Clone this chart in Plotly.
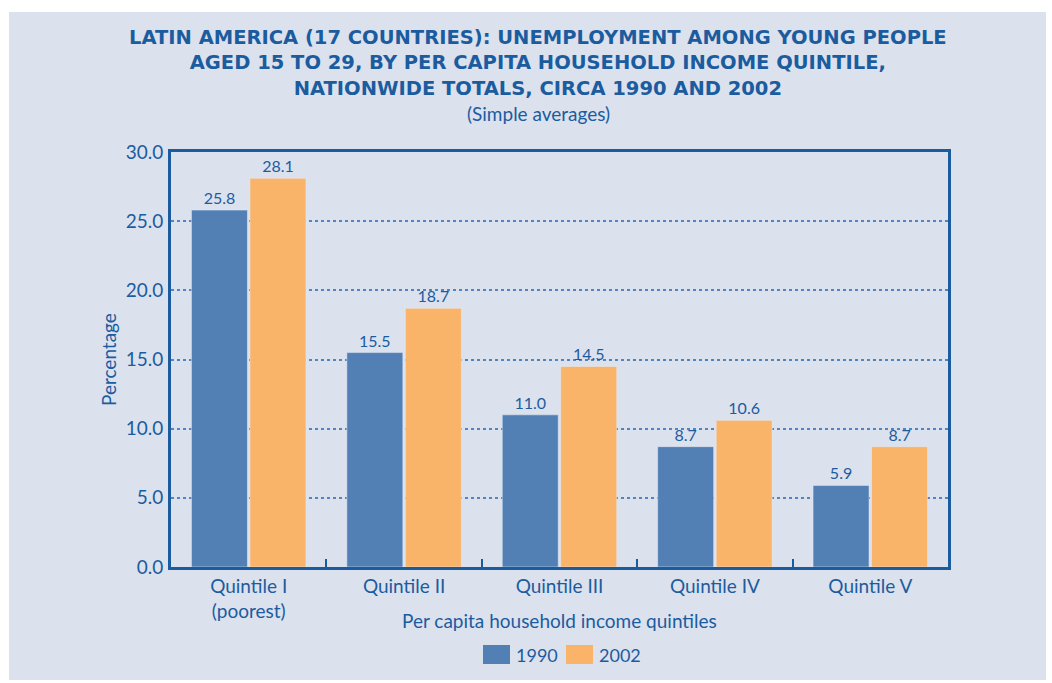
import plotly.graph_objects as go

categories = ["Quintile I<br>(poorest)", "Quintile II", "Quintile III", "Quintile IV", "Quintile V"]
values_1990 = [25.8, 15.5, 11.0, 8.7, 5.9]
values_2002 = [28.1, 18.7, 14.5, 10.6, 8.7]
series_names = ["1990", "2002"]
title_lines = [
    "LATIN AMERICA (17 COUNTRIES): UNEMPLOYMENT AMONG YOUNG PEOPLE",
    "AGED 15 TO 29, BY PER CAPITA HOUSEHOLD INCOME QUINTILE,",
    "NATIONWIDE TOTALS, CIRCA 1990 AND 2002",
]
subtitle = "(Simple averages)"
x_title = "Per capita household income quintiles"
y_title = "Percentage"

TXT = "#1b5c9e"
BLUE = "#5280b5"
ORANGE = "#f9b46a"
BG = "#dce1ee"
FONT = "Lato"

W, H = 1052, 683
L, R, T, B = 171, 948, 152, 567
pw, ph = R - L, B - T


def px(x):
    return (x - L) / pw


def py(y):
    return (B - y) / ph


fig = go.Figure()
for name, vals, col in [(series_names[0], values_1990, BLUE), (series_names[1], values_2002, ORANGE)]:
    fig.add_trace(go.Bar(
        x=categories, y=vals, name=name, marker_color=col,
        text=[f"{v:.1f}" for v in vals], textposition="outside",
        textfont=dict(color=TXT, size=16, family=FONT), cliponaxis=False,
        showlegend=False,
    ))

shapes = [dict(
    type="rect", xref="paper", yref="paper", layer="below",
    x0=px(9), x1=px(1046), y0=py(12), y1=py(680),
    fillcolor=BG, line=dict(width=0),
)]
annotations = [
    dict(text="<b>" + "<br>".join(title_lines) + "</b>", xref="paper", yref="paper",
         x=px(538), y=py(63), xanchor="center", yanchor="middle", showarrow=False,
         align="center", font=dict(size=19.5, color=TXT, family="DejaVu Sans")),
    dict(text=subtitle, xref="paper", yref="paper", x=px(538), y=py(113),
         xanchor="center", yanchor="middle", showarrow=False,
         font=dict(size=19, color=TXT, family=FONT)),
    dict(text=x_title, xref="paper", yref="paper", x=px(559), y=py(620),
         xanchor="center", yanchor="middle", showarrow=False,
         font=dict(size=19, color=TXT, family=FONT)),
    dict(text=y_title, xref="paper", yref="paper", x=px(108), y=py(360), textangle=-90,
         xanchor="center", yanchor="middle", showarrow=False,
         font=dict(size=19, color=TXT, family=FONT)),
]

# custom legend (large swatches as in the reference)
legend_items = [(series_names[0], BLUE, 483), (series_names[1], ORANGE, 566)]
for name, col, x0 in legend_items:
    shapes.append(dict(type="rect", xref="paper", yref="paper",
                       x0=px(x0), x1=px(x0 + 27), y0=py(664), y1=py(645),
                       fillcolor=col, line=dict(width=0)))
    annotations.append(dict(text=name, xref="paper", yref="paper", x=px(x0 + 31), y=py(655),
                            xanchor="left", yanchor="middle", showarrow=False,
                            font=dict(size=18, color=TXT, family=FONT)))

fig.update_layout(
    width=W, height=H,
    margin=dict(l=L, r=W - R, t=T, b=H - B),
    paper_bgcolor="white",
    plot_bgcolor="white",
    barmode="group",
    bargap=0.247,
    bargroupgap=0.043,
    font=dict(family=FONT, color=TXT, size=16),
    showlegend=False,
    shapes=shapes,
    annotations=annotations,
)

fig.update_xaxes(
    showline=True, linecolor=TXT, linewidth=3, mirror=True,
    ticks="inside", tickson="boundaries", ticklen=8, tickcolor=TXT, tickwidth=1.5,
    tickfont=dict(size=19, color=TXT, family=FONT),
    showgrid=False,
)
fig.update_yaxes(
    range=[0, 30], dtick=5, tickformat=".1f",
    showline=True, linecolor=TXT, linewidth=3, mirror=True,
    ticks="", ticklabelstandoff=1,
    tickfont=dict(size=19, color=TXT, family=FONT),
    showgrid=True, gridcolor="#4f86c0", griddash="dot", gridwidth=1.5,
    zeroline=False,
)

fig.write_html("out.html", config={"displayModeBar": False},
               post_script="document.body.style.margin='0';document.body.style.overflow='hidden';")
